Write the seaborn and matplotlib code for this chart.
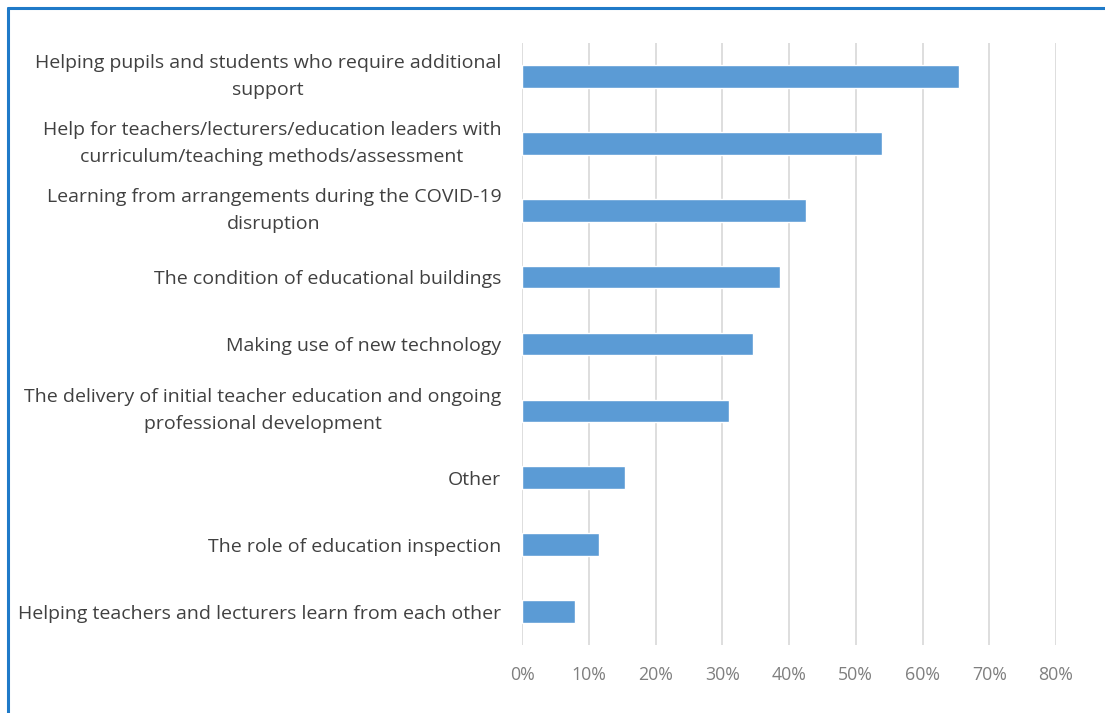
import matplotlib
matplotlib.use("Agg")
import matplotlib.pyplot as plt
from matplotlib.lines import Line2D
from matplotlib.ticker import FuncFormatter
import pandas as pd
import seaborn as sns

# Survey responses: share of respondents choosing each area
categories = [
    "Helping pupils and students who require additional\nsupport",
    "Help for teachers/lecturers/education leaders with\ncurriculum/teaching methods/assessment",
    "Learning from arrangements during the COVID-19\ndisruption",
    "The condition of educational buildings",
    "Making use of new technology",
    "The delivery of initial teacher education and ongoing\nprofessional development",
    "Other",
    "The role of education inspection",
    "Helping teachers and lecturers learn from each other",
]
shares = [65.5, 54.0, 42.5, 38.6, 34.6, 31.0, 15.5, 11.6, 7.9]
x_ticks = [0, 10, 20, 30, 40, 50, 60, 70, 80]

df = pd.DataFrame({"area": categories, "share": shares})

sns.set_theme(style="white")
plt.rcParams["font.family"] = ["Open Sans", "DejaVu Sans"]

fig = plt.figure(figsize=(11.05, 7.13), dpi=100)
ax = fig.add_axes([0.4724, 0.0954, 0.4833, 0.8443])

sns.barplot(data=df, x="share", y="area", orient="h", color="#5b9bd5",
            saturation=1, width=0.34, ax=ax, zorder=3)

ax.set_xlim(0, 80)
ax.set_xticks(x_ticks)
ax.xaxis.set_major_formatter(FuncFormatter(lambda v, _: f"{v:.0f}%"))
ax.grid(axis="x", color="#dedede", linewidth=1.4, zorder=0)
ax.set_axisbelow(True)
for s in ax.spines.values():
    s.set_visible(False)
ax.set_xlabel("")
ax.set_ylabel("")
ax.tick_params(axis="both", length=0, colors="#595959")
ax.tick_params(axis="y", pad=15, labelsize=14)
ax.tick_params(axis="x", pad=15, labelsize=12.8)
for lbl in ax.get_yticklabels():
    lbl.set_multialignment("center")
    lbl.set_linespacing(1.65)
    lbl.set_color("#404040")
    if "\n" in lbl.get_text():
        lbl.set_verticalalignment("center")
for lbl in ax.get_xticklabels():
    lbl.set_color("#7f7f7f")

# blue frame along the top and left edges
frame = "#1f7ac8"
fig.add_artist(Line2D([8 / 1105, 1.0], [1 - 8 / 713, 1 - 8 / 713],
                      transform=fig.transFigure, color=frame, linewidth=2.2))
fig.add_artist(Line2D([8 / 1105, 8 / 1105], [0.0, 1 - 8 / 713],
                      transform=fig.transFigure, color=frame, linewidth=2.2))

fig.savefig("out.png", dpi=100, facecolor="white")
